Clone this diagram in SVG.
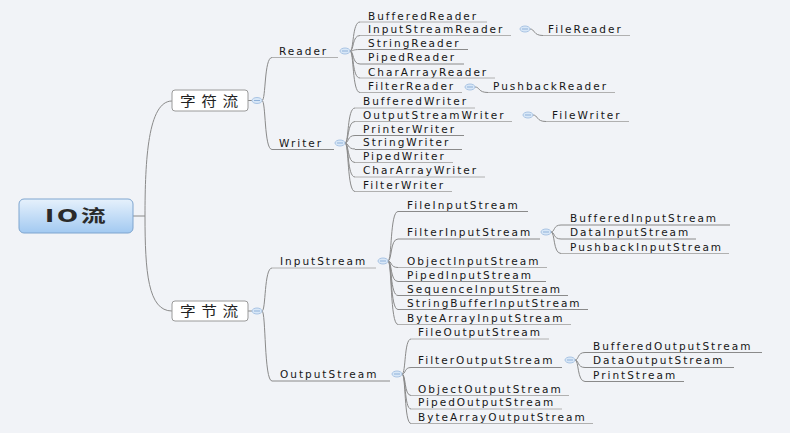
<svg xmlns="http://www.w3.org/2000/svg" width="790" height="433" viewBox="0 0 790 433">
<defs>
<linearGradient id="rootg" x1="0" y1="0" x2="0" y2="1">
<stop offset="0" stop-color="#e6f1fc"/>
<stop offset="1" stop-color="#a2c9f1"/>
</linearGradient>
</defs>
<style>
.t{font-family:"DejaVu Sans",Verdana,sans-serif;font-size:10.5px;letter-spacing:2px;fill:#161616}
.c{font-family:"Noto Sans CJK SC",sans-serif;font-size:14px;letter-spacing:5px;fill:#222}
.r{font-family:"DejaVu Sans","Noto Sans CJK SC",sans-serif;font-size:17px;font-weight:bold;letter-spacing:2px;fill:#2a2a2a}
.ln{fill:none;stroke:#8a8a8a;stroke-width:1}
.ul{fill:none;stroke:#b0b0b0;stroke-width:1}
.tg{fill:#d8e7f7;stroke:#a9c4e4;stroke-width:1}
.tm{stroke:#8fb1d9;stroke-width:1}
.box{fill:#ffffff;stroke:#9a9a9a;stroke-width:1}
</style>
<rect width="790" height="433" fill="#f1f3f7"/>

<g id="connectors">
<path class="ln" d="M133,216 H145"/>
<path class="ln" d="M145,216 C145,160 148,101 172,101"/>
<path class="ln" d="M145,216 C145,272 148,311 172,311"/>
<path class="ln" d="M248,100.5 H252"/>
<path class="ln" d="M248,311 H252"/>
<path class="ln" d="M262,100.5 C266,100.5 264,57.5 272,57.5"/>
<path class="ln" d="M262,100.5 C266,100.5 264,149.5 272,149.5"/>
<path class="ln" d="M262,311 C266,311 264,268 272,268"/>
<path class="ln" d="M262,311 C266,311 264,381 272,381"/>
<path class="ln" d="M350,51 C354,51 352,22 360,22"/>
<path class="ln" d="M350,51 C354,51 352,35.5 360,35.5"/>
<path class="ln" d="M350,51 C354,51 352,49.5 360,49.5"/>
<path class="ln" d="M350,51 C354,51 352,64 360,64"/>
<path class="ln" d="M350,51 C354,51 352,78 360,78"/>
<path class="ln" d="M350,51 C354,51 352,92.5 360,92.5"/>
<path class="ln" d="M530,29 C535,29 533,35.5 543,35.5"/>
<path class="ln" d="M475,87 C480,87 478,92.5 488,92.5"/>
<path class="ln" d="M345,143 C349,143 347,108 355,108"/>
<path class="ln" d="M345,143 C349,143 347,121.5 355,121.5"/>
<path class="ln" d="M345,143 C349,143 347,135.5 355,135.5"/>
<path class="ln" d="M345,143 C349,143 347,149 355,149"/>
<path class="ln" d="M345,143 C349,143 347,162.5 355,162.5"/>
<path class="ln" d="M345,143 C349,143 347,177 355,177"/>
<path class="ln" d="M345,143 C349,143 347,191.5 355,191.5"/>
<path class="ln" d="M533,115 C538,115 536,121.5 546,121.5"/>
<path class="ln" d="M388,261 C392,261 390,211.5 398,211.5"/>
<path class="ln" d="M388,261 C392,261 390,239 398,239"/>
<path class="ln" d="M388,261 C392,261 390,267.5 398,267.5"/>
<path class="ln" d="M388,261 C392,261 390,281.5 398,281.5"/>
<path class="ln" d="M388,261 C392,261 390,295.5 398,295.5"/>
<path class="ln" d="M388,261 C392,261 390,309.5 398,309.5"/>
<path class="ln" d="M388,261 C392,261 390,324.5 398,324.5"/>
<path class="ln" d="M551,232 C555,232 553,225 561,225"/>
<path class="ln" d="M551,232 C555,232 553,239 561,239"/>
<path class="ln" d="M551,232 C555,232 553,253.5 561,253.5"/>
<path class="ln" d="M402,374 C406,374 404,339 411,339"/>
<path class="ln" d="M402,374 C406,374 404,367.5 411,367.5"/>
<path class="ln" d="M402,374 C406,374 404,395.5 411,395.5"/>
<path class="ln" d="M402,374 C406,374 404,409 411,409"/>
<path class="ln" d="M402,374 C406,374 404,423.5 411,423.5"/>
<path class="ln" d="M575,360 C579,360 577,352.5 585,352.5"/>
<path class="ln" d="M575,360 C579,360 577,367.5 585,367.5"/>
<path class="ln" d="M575,360 C579,360 577,381.5 585,381.5"/>
</g>

<g id="root">
<rect x="19" y="199" width="114" height="34" rx="5" fill="url(#rootg)" stroke="#7ea5cf"/>
<text class="r" transform="translate(45,222) scale(1.45,1)">IO流</text>
</g>

<g id="n-zifu">
<rect class="box" x="172" y="90" width="76" height="21" rx="3"/>
<text class="c" transform="translate(180,106) scale(1.12,1)">字符流</text>
<ellipse class="tg" cx="257" cy="100.5" rx="5" ry="3"/><line class="tm" x1="254" y1="100.5" x2="260" y2="100.5"/>
</g>
<g id="n-zijie">
<rect class="box" x="172" y="301" width="76" height="20" rx="3"/>
<text class="c" transform="translate(180,316) scale(1.12,1)">字节流</text>
<ellipse class="tg" cx="257" cy="311" rx="5" ry="3"/><line class="tm" x1="254" y1="311" x2="260" y2="311"/>
</g>

<g id="n-reader">
<text class="t" x="279" y="54.5">Reader</text>
<line class="ul" x1="272" y1="57.5" x2="338" y2="57.5"/>
<ellipse class="tg" cx="345" cy="51" rx="5" ry="3"/><line class="tm" x1="342" y1="51" x2="348" y2="51"/>
</g>
<g id="n-writer">
<text class="t" x="279" y="147">Writer</text>
<line class="ln" x1="272" y1="149.5" x2="334" y2="149.5"/>
<ellipse class="tg" cx="340" cy="143" rx="5" ry="3"/><line class="tm" x1="337" y1="143" x2="343" y2="143"/>
</g>
<g id="n-inputstream">
<text class="t" x="280" y="264.5">InputStream</text>
<line class="ul" x1="272" y1="268" x2="376" y2="268"/>
<ellipse class="tg" cx="383" cy="261" rx="5" ry="3"/><line class="tm" x1="380" y1="261" x2="386" y2="261"/>
</g>
<g id="n-outputstream">
<text class="t" x="280" y="378">OutputStream</text>
<line class="ln" x1="272" y1="381" x2="390" y2="381"/>
<ellipse class="tg" cx="397" cy="374" rx="5" ry="3"/><line class="tm" x1="394" y1="374" x2="400" y2="374"/>
</g>

<g id="n-bufferedreader"><text class="t" x="368" y="19.5">BufferedReader</text><line class="ul" x1="360" y1="22" x2="487" y2="22"/></g>
<g id="n-inputstreamreader"><text class="t" x="368" y="33">InputStreamReader</text><line class="ul" x1="360" y1="35.5" x2="511" y2="35.5"/>
<ellipse class="tg" cx="525" cy="29" rx="5" ry="3"/><line class="tm" x1="522" y1="29" x2="528" y2="29"/></g>
<g id="n-filereader"><text class="t" x="548" y="33">FileReader</text><line class="ul" x1="543" y1="35.5" x2="630" y2="35.5"/></g>
<g id="n-stringreader"><text class="t" x="368" y="47">StringReader</text><line class="ln" x1="360" y1="49.5" x2="468" y2="49.5"/></g>
<g id="n-pipedreader"><text class="t" x="368" y="61">PipedReader</text><line class="ln" x1="360" y1="64" x2="464" y2="64"/></g>
<g id="n-chararrayreader"><text class="t" x="368" y="75.5">CharArrayReader</text><line class="ul" x1="360" y1="78" x2="495" y2="78"/></g>
<g id="n-filterreader"><text class="t" x="368" y="90">FilterReader</text><line class="ul" x1="360" y1="92.5" x2="462" y2="92.5"/>
<ellipse class="tg" cx="470" cy="87" rx="5" ry="3"/><line class="tm" x1="467" y1="87" x2="473" y2="87"/></g>
<g id="n-pushbackreader"><text class="t" x="493" y="90">PushbackReader</text><line class="ul" x1="488" y1="92.5" x2="615" y2="92.5"/></g>

<g id="n-bufferedwriter"><text class="t" x="363" y="105">BufferedWriter</text><line class="ul" x1="355" y1="108" x2="475" y2="108"/></g>
<g id="n-outputstreamwriter"><text class="t" x="363" y="118.5">OutputStreamWriter</text><line class="ul" x1="355" y1="121.5" x2="512" y2="121.5"/>
<ellipse class="tg" cx="528" cy="115" rx="5" ry="3"/><line class="tm" x1="525" y1="115" x2="531" y2="115"/></g>
<g id="n-filewriter"><text class="t" x="552" y="118.5">FileWriter</text><line class="ul" x1="546" y1="121.5" x2="629" y2="121.5"/></g>
<g id="n-printerwriter"><text class="t" x="363" y="132.5">PrinterWriter</text><line class="ln" x1="355" y1="135.5" x2="464" y2="135.5"/></g>
<g id="n-stringwriter"><text class="t" x="363" y="146">StringWriter</text><line class="ln" x1="355" y1="149.5" x2="462" y2="149.5"/></g>
<g id="n-pipedwriter"><text class="t" x="363" y="159.5">PipedWriter</text><line class="ul" x1="355" y1="162.5" x2="453" y2="162.5"/></g>
<g id="n-chararraywriter"><text class="t" x="363" y="174">CharArrayWriter</text><line class="ul" x1="355" y1="177" x2="485" y2="177"/></g>
<g id="n-filterwriter"><text class="t" x="363" y="188.5">FilterWriter</text><line class="ul" x1="355" y1="191.5" x2="452" y2="191.5"/></g>

<g id="n-fileinputstream"><text class="t" x="407" y="208.5">FileInputStream</text><line class="ln" x1="398" y1="211.5" x2="528" y2="211.5"/></g>
<g id="n-filterinputstream"><text class="t" x="407" y="236">FilterInputStream</text><line class="ln" x1="398" y1="239" x2="540" y2="239"/>
<ellipse class="tg" cx="546" cy="232" rx="5" ry="3"/><line class="tm" x1="543" y1="232" x2="549" y2="232"/></g>
<g id="n-bufferedinputstream"><text class="t" x="570" y="222">BufferedInputStream</text><line class="ln" x1="561" y1="225" x2="730" y2="225"/></g>
<g id="n-datainputstream"><text class="t" x="570" y="236">DataInputStream</text><line class="ln" x1="561" y1="239" x2="696" y2="239"/></g>
<g id="n-pushbackinputstream"><text class="t" x="570" y="250.5">PushbackInputStream</text><line class="ul" x1="561" y1="253.5" x2="729" y2="253.5"/></g>
<g id="n-objectinputstream"><text class="t" x="407" y="264.5">ObjectInputStream</text><line class="ul" x1="398" y1="267.5" x2="547" y2="267.5"/></g>
<g id="n-pipedinputstream"><text class="t" x="407" y="278.5">PipedInputStream</text><line class="ln" x1="398" y1="281.5" x2="546" y2="281.5"/></g>
<g id="n-sequenceinputstream"><text class="t" x="407" y="292.5">SequenceInputStream</text><line class="ln" x1="398" y1="295.5" x2="568" y2="295.5"/></g>
<g id="n-stringbufferinputstream"><text class="t" x="407" y="306.5">StringBufferInputStream</text><line class="ln" x1="398" y1="309.5" x2="588" y2="309.5"/></g>
<g id="n-bytearrayinputstream"><text class="t" x="407" y="321.5">ByteArrayInputStream</text><line class="ul" x1="398" y1="324.5" x2="571" y2="324.5"/></g>

<g id="n-fileoutputstream"><text class="t" x="418" y="336">FileOutputStream</text><line class="ul" x1="411" y1="339" x2="549" y2="339"/></g>
<g id="n-filteroutputstream"><text class="t" x="418" y="364">FilterOutputStream</text><line class="ln" x1="411" y1="367.5" x2="562" y2="367.5"/>
<ellipse class="tg" cx="570" cy="360" rx="5" ry="3"/><line class="tm" x1="567" y1="360" x2="573" y2="360"/></g>
<g id="n-bufferedoutputstream"><text class="t" x="593" y="349.5">BufferedOutputStream</text><line class="ln" x1="585" y1="352.5" x2="762" y2="352.5"/></g>
<g id="n-dataoutputstream"><text class="t" x="593" y="364">DataOutputStream</text><line class="ln" x1="585" y1="367.5" x2="734" y2="367.5"/></g>
<g id="n-printstream"><text class="t" x="593" y="378.5">PrintStream</text><line class="ln" x1="585" y1="381.5" x2="684" y2="381.5"/></g>
<g id="n-objectoutputstream"><text class="t" x="418" y="392.5">ObjectOutputStream</text><line class="ul" x1="411" y1="395.5" x2="569" y2="395.5"/></g>
<g id="n-pipedoutputstream"><text class="t" x="418" y="406">PipedOutputStream</text><line class="ul" x1="411" y1="409" x2="562" y2="409"/></g>
<g id="n-bytearrayoutputstream"><text class="t" x="418" y="420.5">ByteArrayOutputStream</text><line class="ul" x1="411" y1="423.5" x2="593" y2="423.5"/></g>
</svg>
